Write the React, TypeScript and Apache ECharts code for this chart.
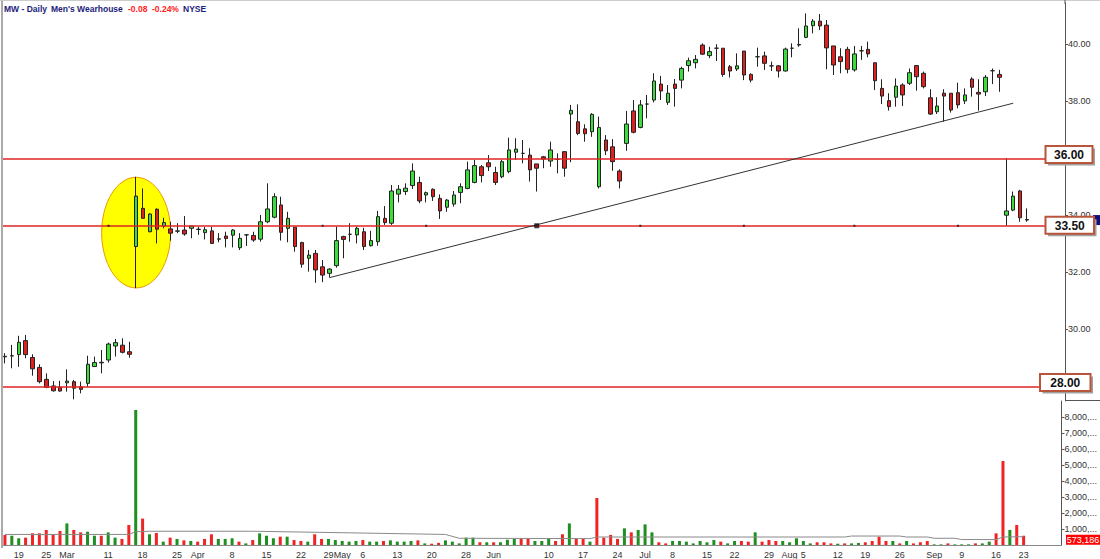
import React, { useEffect, useRef } from 'react';
import * as echarts from 'echarts';

// ---- Daily OHLC (Men's Wearhouse, from 2013-02-14) ----
const OPEN = [29.06,29.07,29.12,29.61,29.02,28.67,28.25,28.02,27.97,28.13,28.17,27.99,28.11,28.70,28.85,28.93,29.42,29.45,29.22,
32.91,34.25,33.43,34.22,33.63,33.53,33.45,33.49,33.55,33.52,33.40,33.46,33.17,33.28,33.31,32.87,33.32,33.30,33.17,33.78,
33.94,34.37,33.55,33.59,33.05,32.50,32.67,32.20,31.97,32.24,33.26,33.34,33.32,33.43,32.94,33.08,33.90,33.73,34.75,34.84,
35.05,35.16,34.72,34.92,34.60,34.29,34.40,34.81,34.95,35.16,35.71,35.85,35.51,35.36,35.54,36.22,36.18,36.12,35.81,36.06,
35.91,35.97,36.24,37.56,37.29,37.04,36.94,35.01,36.65,36.41,35.56,36.53,37.67,37.09,37.91,38.05,38.61,37.97,38.61,38.75,
39.26,39.36,39.98,39.61,39.87,39.87,39.22,39.14,39.77,38.95,39.57,39.60,39.25,39.25,39.07,39.87,39.98,40.25,40.66,40.82,
40.68,39.95,39.57,39.83,39.11,39.78,39.83,39.36,38.46,38.03,38.15,38.58,38.64,39.26,38.99,38.13,37.64,38.29,38.29,38.31,
38.02,38.79,38.32,38.34,39.08,38.95,34.01,34.19,34.86,33.86];
const HIGH = [29.17,29.46,29.78,29.81,29.13,28.78,28.46,28.19,28.20,28.60,28.23,28.17,29.08,29.05,29.28,29.54,29.67,29.69,29.57,
35.36,34.95,34.08,34.25,33.92,33.78,33.73,33.98,33.63,33.60,33.60,33.60,33.38,33.43,33.52,33.38,33.35,33.43,34.02,35.13,
34.78,34.66,34.13,33.59,33.08,32.79,32.79,32.44,32.15,33.61,33.29,33.73,33.61,33.57,33.46,34.16,34.33,35.07,35.07,35.13,
35.83,35.36,34.84,34.95,34.74,34.58,34.86,35.13,35.89,35.95,35.77,36.12,35.71,35.95,36.73,36.71,36.65,36.36,35.81,36.09,
36.59,36.18,36.26,37.88,37.90,37.20,37.59,37.47,36.82,36.68,35.62,37.67,38.05,38.05,38.23,38.99,38.90,38.58,38.79,39.22,
39.54,39.63,40.04,39.92,40.01,39.87,39.28,39.69,39.77,38.99,39.89,39.75,39.40,39.28,39.89,40.04,40.57,41.09,40.89,41.07,
40.86,39.95,39.87,39.92,39.95,39.95,40.10,39.36,38.78,38.29,38.81,38.64,39.16,39.28,39.05,38.43,38.15,38.43,38.29,38.66,
38.46,38.85,38.78,38.93,39.16,39.11,36.01,34.84,34.90,34.25];
const LOW = [28.81,28.64,28.69,28.99,28.38,28.11,27.94,27.82,27.82,27.82,27.55,27.76,27.99,28.70,28.46,28.84,29.05,29.16,29.01,
31.45,33.90,33.41,33.02,33.55,33.12,33.38,33.29,33.20,33.32,33.16,33.00,33.06,32.88,32.88,32.79,32.93,33.08,33.08,33.73,
33.90,33.12,33.06,32.73,32.17,32.03,31.64,31.66,31.82,32.17,32.50,33.08,33.02,32.79,32.91,32.94,33.67,33.67,34.46,34.72,
34.93,34.43,34.46,34.51,33.88,34.13,34.31,34.43,34.92,35.13,35.16,35.56,35.07,35.31,35.48,35.95,35.83,35.19,34.84,35.66,
35.71,35.48,35.36,35.87,36.82,36.59,36.76,34.95,36.12,35.57,34.95,36.27,36.88,37.06,37.41,37.97,38.05,37.88,37.82,38.46,
39.05,39.16,39.63,39.52,39.42,38.87,38.84,39.07,38.75,38.67,39.22,39.11,39.07,38.84,39.05,39.55,39.92,40.22,40.39,40.51,
39.13,38.93,38.99,38.99,39.05,39.46,39.55,38.40,37.91,37.68,37.82,37.84,38.58,38.38,38.46,37.53,37.56,37.29,37.61,37.76,
37.91,38.17,37.68,38.19,38.61,38.34,33.64,34.15,33.78,33.78];
const CLOSE = [29.04,29.08,29.55,29.12,28.62,28.17,27.97,27.85,27.84,28.19,27.94,27.90,28.78,28.84,28.83,29.49,29.54,29.20,29.13,
34.68,33.90,34.05,33.52,33.75,33.38,33.46,33.35,33.63,33.51,33.50,33.02,33.18,33.19,33.49,33.20,33.32,33.14,33.78,34.23,
34.66,33.41,33.90,32.91,32.29,32.61,32.09,31.91,32.12,33.12,33.16,33.34,33.55,32.91,33.12,33.96,33.75,34.86,34.92,34.96,
35.56,34.51,34.80,34.66,34.16,34.54,34.72,35.01,35.60,35.75,35.40,35.71,35.16,35.89,36.30,36.33,36.18,35.60,35.66,35.98,
36.30,35.97,35.66,37.69,36.88,36.87,37.55,37.09,36.27,35.89,35.21,37.21,36.92,37.88,37.91,38.72,38.37,38.29,38.46,39.16,
39.43,39.48,39.66,39.75,39.87,38.95,39.07,39.25,38.93,38.75,39.57,39.34,39.25,39.07,39.84,39.87,40.00,40.65,40.82,40.65,
39.88,39.28,39.40,39.13,39.67,39.78,39.67,38.73,38.19,37.82,38.54,38.23,39.01,38.87,38.52,37.56,37.84,38.19,37.70,37.88,
38.23,38.50,38.26,38.85,39.08,38.85,34.16,34.68,33.92,33.84];
// ---- Daily volume, millions of shares ----
const VOLUME = [0.63,0.58,0.42,0.46,0.73,0.73,0.94,0.67,0.88,1.35,0.94,0.79,0.83,0.58,0.58,0.79,0.46,0.38,1.25,
8.44,1.65,0.67,0.75,0.21,0.46,0.38,0.29,0.25,0.21,0.38,0.67,0.38,0.38,0.42,0.21,0.10,0.31,0.73,0.58,
0.42,0.52,0.52,0.31,0.25,0.21,0.67,0.38,0.38,0.31,0.25,0.21,0.25,0.31,0.21,0.21,0.25,0.29,0.21,0.21,
0.25,0.29,0.10,0.08,0.13,0.29,0.21,0.10,0.46,0.46,0.17,0.17,0.17,0.17,0.33,0.38,0.42,0.42,0.25,0.25,
0.42,0.25,0.67,1.35,0.38,0.38,0.21,2.94,0.46,0.63,0.38,1.04,0.79,0.94,1.29,0.79,0.17,0.10,0.25,0.25,
0.21,0.10,0.25,0.17,0.31,0.21,0.10,0.25,0.25,0.21,0.79,0.21,0.31,0.25,0.25,0.17,0.42,0.25,0.10,0.17,
0.17,0.10,0.08,0.10,0.10,0.13,0.17,0.25,0.52,0.25,0.25,0.10,0.25,0.10,0.17,0.25,0.04,0.04,0.10,0.04,
0.04,0.04,0.10,0.10,0.21,0.73,5.25,0.94,1.25,0.573];
// volume moving average, read at [day index, millions]
const VOL_MA = [[0,0.66],[18,0.66],[19,0.83],[21,0.86],[36,0.86],[50,0.76],[64,0.66],[66,0.42],[85,0.40],[86,0.50],
[122,0.50],[123,0.56],[130,0.56],[131,0.50],[134,0.50],[135,0.42],[138,0.42],[139,0.34],[144,0.34],[145,0.50],[148,0.52]];
const LAST_VOLUME = 573186;

// ---- axis ticks ----
const DATE_TICKS: [number, string][] = [[2,'19'],[6,'25'],[9,'Mar'],[15,'11'],[20,'18'],[25,'25'],[28,'Apr'],[33,'8'],[38,'15'],
[43,'22'],[47,'29'],[49,'May'],[52,'6'],[57,'13'],[62,'20'],[67,'28'],[71,'Jun'],[79,'10'],[84,'17'],[89,'24'],[93,'Jul'],
[97,'8'],[102,'15'],[106,'22'],[111,'29'],[114,'Aug'],[116,'5'],[121,'12'],[125,'19'],[130,'26'],[135,'Sep'],[139,'9'],[144,'16'],[148,'23']];
const PRICE_TICKS = [28,30,32,34,36,38,40];
// 36.00 and 28.00 sit under the level boxes in the reference
const PRICE_LABELS = [30,32,34,38,40];
const VOL_TICKS = [1,2,3,4,5,6,7,8];

// ---- annotations ----
const LEVELS = [36, 33.64, 28];
const LEVEL_LABELS = ['36.00', '33.50', '28.00'];
const TREND = [[47, 31.82], [146, 37.94]];
const LINE_DOTS = [15, 46, 61, 92, 107, 123, 138];
const ANCHOR_DOT = 77;
const HIGHLIGHT = [19, 33.4];

const HOLIDAYS = ['2013-02-18', '2013-03-29', '2013-05-27', '2013-07-04', '2013-09-02'];
function tradingDays(start: string, n: number): string[] {
  const out: string[] = [];
  const d = new Date(start + 'T12:00:00Z');
  while (out.length < n) {
    const s = d.toISOString().slice(0, 10);
    const wd = d.getUTCDay();
    if (wd !== 0 && wd !== 6 && HOLIDAYS.indexOf(s) < 0) out.push(s);
    d.setUTCDate(d.getUTCDate() + 1);
  }
  return out;
}
const CATEGORIES = tradingDays('2013-02-14', OPEN.length + 5);

const GREEN = '#3ddc3d';
const RED = '#dd2020';
const VGREEN = '#1f8f1f';
const VRED = '#f02424';
const FONT = 'Liberation Sans, Arial, sans-serif';

export default function App() {
  const ref = useRef<HTMLDivElement>(null);
  useEffect(() => {
    document.body.style.margin = '0';
    const chart = echarts.init(ref.current!, undefined, { renderer: 'svg' });
    const tickMap: Record<number, string> = {};
    DATE_TICKS.forEach(([i, t]) => (tickMap[i] = t));
    const candles = OPEN.map((o, i) => [o, CLOSE[i], LOW[i], HIGH[i]]);
    const vols = VOLUME.map((v, i) => {
      const up = i === 0 ? CLOSE[i] >= OPEN[i] : CLOSE[i] >= CLOSE[i - 1];
      return { value: v, itemStyle: { color: up ? VGREEN : VRED } };
    });
    chart.setOption({
      animation: false,
      backgroundColor: '#fff',
      grid: [
        { left: 1.5, width: 1063.5, top: 3, height: 398 },
        { left: 1.5, width: 1063.5, top: 401, height: 144 },
      ],
      xAxis: [
        { type: 'category', gridIndex: 0, data: CATEGORIES, boundaryGap: true, show: false },
        {
          type: 'category', gridIndex: 1, data: CATEGORIES, boundaryGap: true,
          axisLine: { show: true, lineStyle: { color: '#888' } },
          axisTick: { show: false },
          axisLabel: {
            interval: 0, fontSize: 9, color: '#333', margin: 5, fontFamily: FONT,
            formatter: (_v: string, idx: number) => tickMap[idx] || '',
          },
        },
      ],
      yAxis: [
        {
          type: 'value', gridIndex: 0, position: 'right', min: 27.4912, max: 41.4561, splitNumber: 7,
          splitLine: { show: false },
          axisLine: { show: true, lineStyle: { color: '#555' } },
          axisTick: { show: true, length: 3, lineStyle: { color: '#555' }, customValues: PRICE_TICKS },
          axisLabel: {
            customValues: PRICE_LABELS, fontSize: 9, color: '#333', margin: 3, fontFamily: FONT,
            formatter: (v: number) => v.toFixed(2),
          },
        },
        {
          type: 'value', gridIndex: 1, position: 'right', min: 0, max: 9,
          splitLine: { show: false },
          axisLine: { show: true, lineStyle: { color: '#555' } },
          axisTick: { show: true, length: 3, lineStyle: { color: '#555' }, customValues: VOL_TICKS },
          axisLabel: {
            customValues: VOL_TICKS, fontSize: 9, color: '#333', margin: 3, fontFamily: FONT,
            formatter: (v: number) => (v === 0 ? '' : `${v},000,...`),
          },
        },
      ],
      series: [
        {
          type: 'candlestick', xAxisIndex: 0, yAxisIndex: 0, data: candles, barWidth: 4,
          itemStyle: { color: GREEN, color0: RED, borderColor: '#222', borderColor0: '#222', borderWidth: 1 },
          markLine: {
            silent: true, symbol: ['none', 'none'], label: { show: false },
            data: [
              ...LEVELS.map((v) => ({ yAxis: v, lineStyle: { color: '#e02424', width: 1.5, type: 'solid' } })),
              [
                { coord: TREND[0], lineStyle: { color: '#333', width: 1, type: 'solid' } },
                { coord: TREND[1] },
              ],
            ],
          },
        },
        {
          type: 'scatter', xAxisIndex: 0, yAxisIndex: 0, symbol: 'rect', silent: true,
          data: [
            ...LINE_DOTS.map((i) => ({ value: [i, LEVELS[1]], symbolSize: 2 })),
            { value: [ANCHOR_DOT, LEVELS[1]], symbolSize: 5 },
          ],
          itemStyle: { color: '#111' }, z: 5,
        },
        {
          type: 'bar', xAxisIndex: 1, yAxisIndex: 1, data: vols, barWidth: 3,
        },
        {
          type: 'line', xAxisIndex: 1, yAxisIndex: 1, data: VOL_MA, showSymbol: false, silent: true,
          lineStyle: { color: '#8a8a8a', width: 1 }, z: 3,
        },
      ],
    });

    const px = (x: number, y: number) => chart.convertToPixel({ xAxisIndex: 0, yAxisIndex: 0 }, [x, y]) as number[];
    const vpx = (x: number, y: number) => chart.convertToPixel({ xAxisIndex: 1, yAxisIndex: 1 }, [x, y]) as number[];
    const c = px(HIGHLIGHT[0], HIGHLIGHT[1]);
    const boxX = [1045.5, 1045.5, 1040];
    const boxW = [47, 48.5, 50.5];
    const boxDy = [-12.5, -9, -12.5];
    const TOP = 300;
    const boxes: any[] = [];
    LEVELS.forEach((v, k) => {
      const y = px(0, v)[1] + boxDy[k];
      const x = boxX[k];
      boxes.push(
        { type: 'rect', z: TOP, silent: true, shape: { x: x + 2.5, y: y + 2.5, width: boxW[k], height: 17 }, style: { fill: '#a0a0a0' } },
        { type: 'rect', z: TOP + 1, silent: true, shape: { x, y, width: boxW[k], height: 17 }, style: { fill: '#fff', stroke: '#b8553a', lineWidth: 2 } },
        {
          type: 'text', z: TOP + 2, silent: true, x: x + boxW[k] / 2, y: y + 9,
          style: { text: LEVEL_LABELS[k], fill: '#111', font: `bold 12px ${FONT}`, align: 'center', verticalAlign: 'middle' },
        },
      );
    });
    const lastClosePx = px(0, CLOSE[CLOSE.length - 1])[1];
    const lastVolPx = vpx(0, LAST_VOLUME / 1e6)[1];
    const title = [
      { t: 'MW - Daily', x: 4, c: '#1c1c7a' },
      { t: "Men's Wearhouse", x: 51, c: '#1c1c7a' },
      { t: '-0.08', x: 128, c: '#ff2020' },
      { t: '-0.24%', x: 152, c: '#ff2020' },
      { t: 'NYSE', x: 183, c: '#1c1c7a' },
    ];
    chart.setOption({
      graphic: [
        {
          type: 'ellipse', z: -10, silent: true,
          shape: { cx: c[0], cy: c[1], rx: 34.5, ry: 55.3 },
          style: { fill: '#ffff00', stroke: '#e89a00', lineWidth: 1 },
        },
        { type: 'line', z: 50, silent: true, shape: { x1: 2, y1: 0, x2: 2, y2: 548 }, style: { stroke: '#aaa', lineWidth: 2 } },
        { type: 'line', z: 50, silent: true, shape: { x1: 0, y1: 0.5, x2: 1100, y2: 0.5 }, style: { stroke: '#ccc', lineWidth: 1 } },
        { type: 'line', z: 50, silent: true, shape: { x1: 1065, y1: 0, x2: 1065, y2: 4 }, style: { stroke: '#555', lineWidth: 1 } },
        { type: 'line', z: 50, silent: true, shape: { x1: 1065, y1: 400.5, x2: 1100, y2: 400.5 }, style: { stroke: '#555', lineWidth: 1 } },
        { type: 'rect', z: TOP - 5, silent: true, shape: { x: 1093, y: lastClosePx - 5, width: 7, height: 10 }, style: { fill: '#10107a' } },
        ...boxes,
        { type: 'rect', z: TOP, silent: true, shape: { x: 1066, y: lastVolPx - 1, width: 34, height: 10 }, style: { fill: '#ff0000' } },
        {
          type: 'text', z: TOP + 1, silent: true, x: 1083, y: lastVolPx + 4.5,
          style: { text: LAST_VOLUME.toLocaleString('en-US'), fill: '#fff', font: `9px ${FONT}`, align: 'center', verticalAlign: 'middle' },
        },
        ...title.map((s) => ({
          type: 'text', x: s.x, y: 8.5, z: TOP, silent: true,
          style: { text: s.t, fill: s.c, font: `bold 8.5px ${FONT}`, verticalAlign: 'middle' },
        })),
      ],
    });
    return () => chart.dispose();
  }, []);
  return <div ref={ref} style={{ width: 1100, height: 559 }} />;
}
